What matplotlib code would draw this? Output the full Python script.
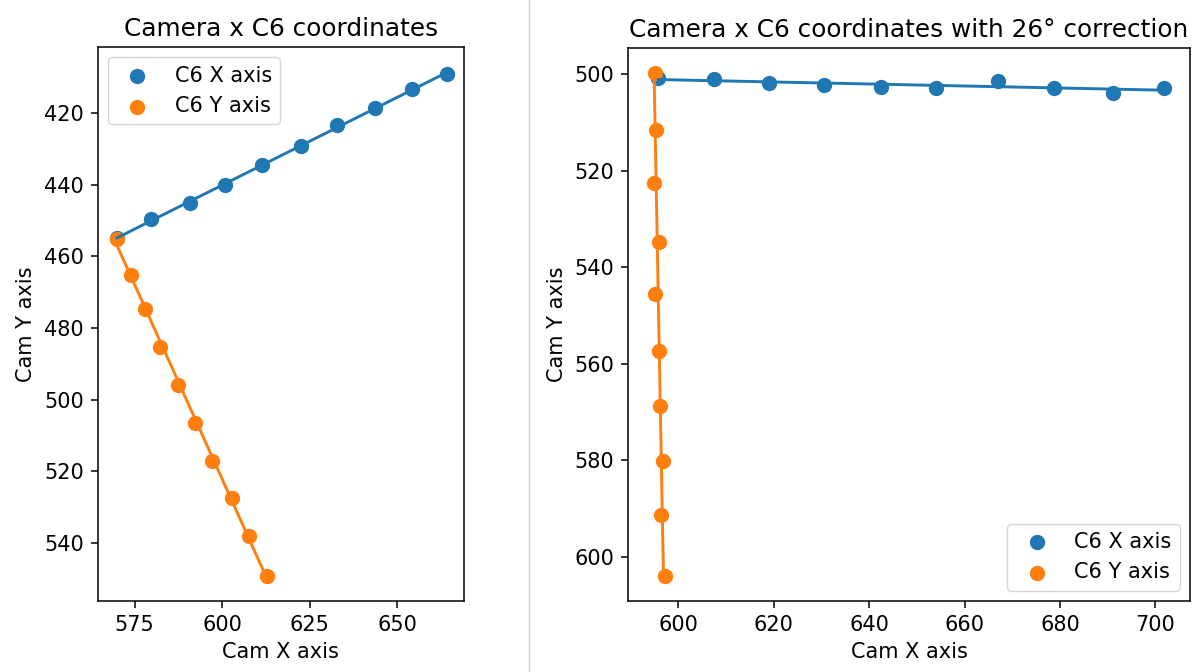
import numpy as np
import matplotlib
matplotlib.use('Agg')
import matplotlib.pyplot as plt
from matplotlib.lines import Line2D

# C6 points seen by the camera (raw)
raw_x_cam_x = [570.0, 579.7, 590.7, 600.9, 611.5, 622.4, 632.8, 643.6, 654.1, 664.3]
raw_x_cam_y = [454.9, 449.7, 445.0, 440.1, 434.5, 429.3, 423.3, 418.6, 413.4, 409.1]
raw_y_cam_x = [570.0, 573.9, 578.1, 582.4, 587.5, 592.3, 597.2, 602.8, 607.8, 612.8]
raw_y_cam_y = [455.2, 465.1, 474.8, 485.2, 495.9, 506.5, 517.2, 527.6, 538.2, 549.2]

# same points after the 26 degree correction
cor_x_cam_x = [595.8, 607.4, 619.0, 630.6, 642.4, 654.0, 667.1, 678.8, 691.2, 701.9]
cor_x_cam_y = [500.8, 501.0, 501.9, 502.2, 502.6, 502.8, 501.5, 502.8, 503.9, 502.8]
cor_y_cam_x = [595.2, 595.3, 594.8, 596.0, 595.2, 596.0, 596.2, 596.7, 596.4, 597.1]
cor_y_cam_y = [499.8, 511.6, 522.6, 534.7, 545.6, 557.3, 568.7, 580.1, 591.4, 603.9]

plt.rcParams['font.size'] = 15
plt.rcParams['axes.linewidth'] = 1.1
plt.rcParams['axes.labelpad'] = 5.6
plt.rcParams['xtick.major.size'] = 4.9
plt.rcParams['ytick.major.size'] = 4.9
plt.rcParams['xtick.major.pad'] = 4.9
plt.rcParams['ytick.major.pad'] = 4.9
plt.rcParams['xtick.major.width'] = 1.1
plt.rcParams['ytick.major.width'] = 1.1

fig = plt.figure(figsize=(11.94, 6.72), dpi=100)
ax1 = fig.add_axes([97.5 / 1194, 71 / 672, 366.5 / 1194, 554 / 672])
ax2 = fig.add_axes([628 / 1194, 71 / 672, 562 / 1194, 553 / 672])


def draw(ax, xx, xy, yx, yy, title, loc):
    ax.scatter(xx, xy, s=100, label='C6 X axis')
    ax.scatter(yx, yy, s=100, label='C6 Y axis')
    # fitted lines
    xx = np.array(xx)
    yy = np.array(yy)
    p = np.polyfit(xx, xy, 1)
    ax.plot(xx, np.polyval(p, xx), color='C0', lw=2.1)
    q = np.polyfit(yy, yx, 1)
    ax.plot(np.polyval(q, yy), yy, color='C1', lw=2.1)
    ax.invert_yaxis()
    ax.set_title(title, fontsize=17.8, pad=8)
    ax.set_xlabel('Cam X axis')
    ax.set_ylabel('Cam Y axis')
    ax.legend(loc=loc, fontsize=15)


draw(ax1, raw_x_cam_x, raw_x_cam_y, raw_y_cam_x, raw_y_cam_y,
     'Camera x C6 coordinates', 'upper left')
draw(ax2, cor_x_cam_x, cor_x_cam_y, cor_y_cam_x, cor_y_cam_y,
     'Camera x C6 coordinates with 26° correction', 'lower right')
ax1.set_xticks([575, 600, 625, 650])

fig.add_artist(Line2D([529 / 1194, 529 / 1194], [0, 1], transform=fig.transFigure,
                      color='#cccccc', lw=1))

fig.savefig('out.png', dpi=100)
